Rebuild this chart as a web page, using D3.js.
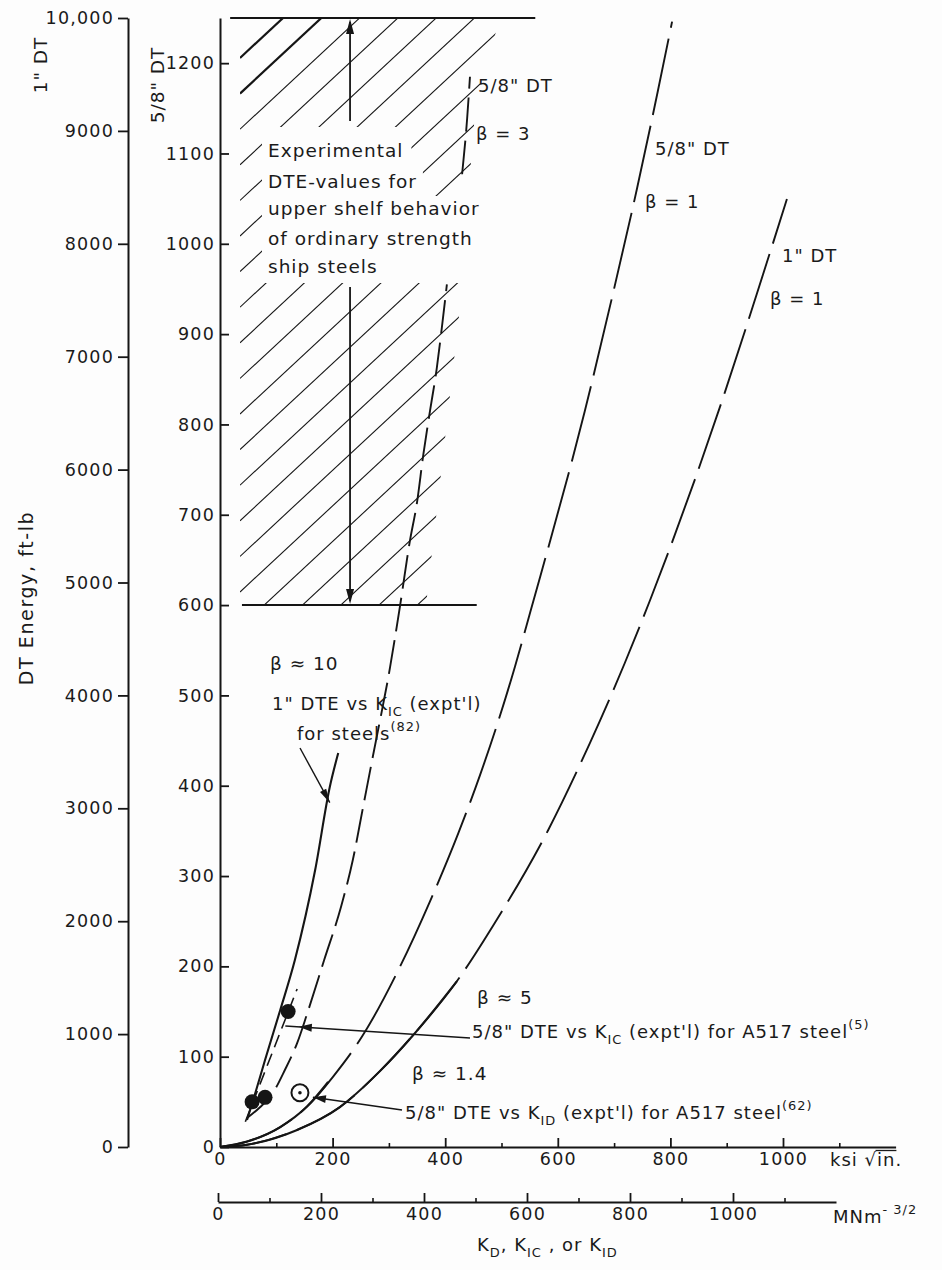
<!DOCTYPE html>
<html><head><meta charset="utf-8">
<script src="https://cdn.jsdelivr.net/npm/d3@7/dist/d3.min.js"></script>
<style>
html,body{margin:0;padding:0;background:#fdfdfd;}
svg{display:block;}
text{font-family:"DejaVu Sans",sans-serif;fill:#1a1a1a;}
</style></head><body>
<svg id="chart" width="942" height="1270"></svg>
<script>
// ---------------- DATA ----------------
const ksiTicks = [0, 200, 400, 600, 800, 1000];
const ksiMinor = [100, 300, 500, 700, 900, 1100];
const mnTicks = [0, 200, 400, 600, 800, 1000];
const mnMinor = [100, 300, 500, 700, 900, 1100];
const dt1Ticks = [0, 1000, 2000, 3000, 4000, 5000, 6000, 7000, 8000, 9000, 10000];
const dt58Ticks = [0, 100, 200, 300, 400, 500, 600, 700, 800, 900, 1000, 1100, 1200];

// 5/8" DT, beta = 1 (dashed), energy in 5/8" DT ft-lb
const b1s_K = [0, 48, 107, 155, 201, 252, 320, 373, 423, 462, 524, 551, 648, 698, 741, 778, 803];
const b1s_E = [0, 6, 22, 45, 78, 122, 200, 272, 347, 412, 532, 592, 815, 945, 1062, 1170, 1246];
// 1" DT, beta = 1 (dashed), energy in 1" DT ft-lb
const b1l_K = [0, 48, 137, 213, 284, 343, 421, 485, 583, 657, 719, 764, 897, 954, 1007];
const b1l_E = [0, 20, 151, 354, 672, 990, 1470, 1960, 2808, 3578, 4287, 4845, 6688, 7564, 8397];
// 5/8" DT, beta = 3 (dashed), null = break behind the text block
const b3_K = [48, 71, 94, 115, 137, 155, 185, 215, 236, 254, 272, 302, 320, 337, 350, 361, 373, 385, 394, 403, 416, 430, 439, 444];
const b3_E = [32, 44, 60, 85, 115, 148, 207, 266, 318, 376, 434, 531, 600, 670, 714, 766, 815, 862, 907, 955, null, 1077, 1139, 1185];
// beta ~ 10 : 1" DTE vs KIC (expt'l) for steels, 1" DT ft-lb (solid)
const b10_K = [48, 59, 80, 107, 133, 169, 195, 210];
const b10_E = [239, 416, 771, 1213, 1656, 2453, 3189, 3490];
// beta ~ 5 (solid, 5/8" DT ft-lb)
const b5_K = [0, 48, 107, 155, 192];
const b5_E = [0, 6, 22, 45, 72];
// beta ~ 1.4 (solid, 1" DT ft-lb)
const b14_K = [0, 48, 137, 213, 284, 343, 421];
const b14_E = [0, 20, 151, 354, 672, 990, 1470];
// A517 steel, 5/8" DTE vs KIC (expt'l), filled points
const a517ic_K = [57, 80, 121];
const a517ic_E = [50, 55, 150];
// dashed line through A517 KIC points
const a517fit_K = [45, 137];
const a517fit_E = [28, 175];
// A517 steel, 5/8" DTE vs KID (expt'l), open point
const a517id_K = [142];
const a517id_E = [60];
// Experimental upper-shelf band (5/8" DT ft-lb)
const shelfLow = 600, shelfHigh = 1250;

// ---------------- SETUP ----------------
const W = 942, H = 1270;
const BG = "#fdfdfd";
const svg = d3.select("#chart");
svg.append("rect").attr("width", W).attr("height", H).attr("fill", BG);

const x = d3.scaleLinear().domain([0, 1200]).range([220, 895.6]);
const xMN = d3.scaleLinear().domain([0, 1200]).range([218, 836]);
const y58 = d3.scaleLinear().domain([0, 1250]).range([1147, 18]);
const y1 = d3.scaleLinear().domain([0, 10000]).range([1147, 18]);

const INK = "#151515";

// ---------------- HATCHED BAND ----------------
const hatchTop = y58(shelfHigh), hatchBot = y58(shelfLow);
const clip = svg.append("defs").append("clipPath").attr("id", "hclip");
clip.append("polygon").attr("points", [
  [240, hatchTop], [500, hatchTop], [476, 100], [468, 200], [462, 290], [426, hatchBot], [240, hatchBot]
].map(p => p.join(",")).join(" "));
const hatch = svg.append("g").attr("clip-path", "url(#hclip)");
const hSlope = 0.93, hStep = 35.6;
for (let n = 0; n <= 20; n++) {
  const yL = 58 + hStep * n;
  hatch.append("line")
    .attr("x1", 240).attr("y1", yL)
    .attr("x2", 600).attr("y2", yL - hSlope * 360)
    .attr("stroke", INK).attr("stroke-width", n < 2 ? 2.2 : 1.1);
}
const maskG = svg.append("g");

// band edges
svg.append("line").attr("x1", x(18)).attr("x2", x(560)).attr("y1", hatchTop).attr("y2", hatchTop)
  .attr("stroke", INK).attr("stroke-width", 2);
svg.append("line").attr("x1", x(39)).attr("x2", x(456)).attr("y1", hatchBot).attr("y2", hatchBot)
  .attr("stroke", INK).attr("stroke-width", 2);

function arrowHead(g, tx, ty, fx, fy, len, hw) {
  const dx = tx - fx, dy = ty - fy, L = Math.hypot(dx, dy);
  const ux = dx / L, uy = dy / L;
  const bx = tx - ux * len, by = ty - uy * len;
  g.append("polygon").attr("points",
    [[tx, ty], [bx - uy * hw, by + ux * hw], [bx + uy * hw, by - ux * hw]].map(p => p.join(",")).join(" "))
    .attr("fill", INK);
}
// band arrows
const ax = x(231);
svg.append("line").attr("x1", ax).attr("x2", ax).attr("y1", 121).attr("y2", hatchTop + 4).attr("stroke", INK).attr("stroke-width", 1.8);
arrowHead(svg, ax, hatchTop + 1, ax, 121, 15, 4);
svg.append("line").attr("x1", ax).attr("x2", ax).attr("y1", 287).attr("y2", hatchBot - 4).attr("stroke", INK).attr("stroke-width", 1.8);
arrowHead(svg, ax, hatchBot - 1, ax, 287, 15, 4);

// ---------------- CURVES ----------------
function series(K, E) { return K.map((k, i) => ({ k: k, e: E[i] })); }
const line58 = d3.line().defined(d => d.e != null).x(d => x(d.k)).y(d => y58(d.e)).curve(d3.curveMonotoneX);
const line1 = d3.line().defined(d => d.e != null).x(d => x(d.k)).y(d => y1(d.e)).curve(d3.curveMonotoneX);

function draw(path, dash, w) {
  svg.append("path").attr("d", path).attr("fill", "none").attr("stroke", INK)
    .attr("stroke-width", w).attr("stroke-dasharray", dash).attr("stroke-linecap", "butt");
}
draw(line58(series(b1s_K, b1s_E)), "78,11", 1.9);
draw(line1(series(b1l_K, b1l_E)), "68,11", 1.9);
draw(line58(series(b3_K, b3_E)), "34,9", 1.9);
draw(line1(series(b10_K, b10_E)), null, 2.1);
draw(line58(series(b5_K, b5_E)), null, 2.1);
draw(line1(series(b14_K, b14_E)), null, 2.1);
draw(line58(series(a517fit_K, a517fit_E)), "13,7", 1.6);

// points
svg.append("g").selectAll("circle").data(series(a517ic_K, a517ic_E)).join("circle")
  .attr("cx", d => x(d.k)).attr("cy", d => y58(d.e)).attr("r", 7.5).attr("fill", INK);
const idG = svg.append("g").selectAll("g").data(series(a517id_K, a517id_E)).join("g");
idG.append("circle").attr("cx", d => x(d.k)).attr("cy", d => y58(d.e)).attr("r", 8.5)
  .attr("fill", "none").attr("stroke", INK).attr("stroke-width", 2);
idG.append("circle").attr("cx", d => x(d.k)).attr("cy", d => y58(d.e)).attr("r", 1.8).attr("fill", INK);

// ---------------- AXES ----------------
function styleAxis(g, fs) {
  g.attr("font-family", "DejaVu Sans").attr("font-size", fs);
  g.selectAll("text").attr("fill", "#1a1a1a").style("letter-spacing", "1.2px");
  g.selectAll("path.domain").attr("stroke", INK).attr("stroke-width", 2);
  g.selectAll(".tick line").attr("stroke", INK).attr("stroke-width", 1.8);
}
const plain = d => String(d);
const g1 = svg.append("g").attr("transform", "translate(128,0)")
  .call(d3.axisLeft(y1).tickValues(dt1Ticks).tickSizeInner(10).tickSizeOuter(0).tickPadding(4)
    .tickFormat(d => d === 10000 ? "10,000" : String(d)));
styleAxis(g1, 17.5);

const g58 = svg.append("g").attr("transform", "translate(220,0)")
  .call(d3.axisLeft(y58).tickValues(dt58Ticks).tickSizeInner(-9).tickSizeOuter(0).tickPadding(5).tickFormat(plain));
styleAxis(g58, 17.5);

const gx = svg.append("g").attr("transform", "translate(0,1147)")
  .call(d3.axisBottom(x).tickValues(ksiTicks).tickSizeInner(-9).tickSizeOuter(0).tickPadding(6).tickFormat(plain));
styleAxis(gx, 17.5);
const gxm = svg.append("g").attr("transform", "translate(0,1147)")
  .call(d3.axisBottom(x).tickValues(ksiMinor).tickSizeInner(-4).tickSizeOuter(0).tickFormat(""));
gxm.select("path.domain").remove();
gxm.selectAll(".tick line").attr("stroke", INK).attr("stroke-width", 1.6);

const gm = svg.append("g").attr("transform", "translate(0,1202)")
  .call(d3.axisBottom(xMN).tickValues(mnTicks).tickSizeInner(-9).tickSizeOuter(0).tickPadding(6).tickFormat(plain));
styleAxis(gm, 17.5);
const gmm = svg.append("g").attr("transform", "translate(0,1202)")
  .call(d3.axisBottom(xMN).tickValues(mnMinor).tickSizeInner(-4).tickSizeOuter(0).tickFormat(""));
gmm.select("path.domain").remove();
gmm.selectAll(".tick line").attr("stroke", INK).attr("stroke-width", 1.6);

// ---------------- TEXT ----------------
function label(xp, yp, parts, fs, extra) {
  const t = svg.append("text").attr("x", xp).attr("y", yp).attr("font-size", fs || 18)
    .style("letter-spacing", "1px");
  if (extra) extra(t);
  let shift = 0;
  parts.forEach(p => {
    const pt = typeof p === "string" ? { t: p } : p;
    const target = pt.sub ? 6 : pt.sup ? -9 : 0;
    t.append("tspan").attr("dy", target - shift).attr("font-size", pt.sub || pt.sup ? (fs || 18) * 0.72 : null)
      .text(pt.t);
    shift = target;
  });
  return t;
}
// band text + blank zone behind it
const bandLines = [["Experimental", 157], ["DTE-values for", 188], ["upper shelf behavior", 215],
                   ["of ordinary strength", 245], ["ship steels", 273]];
const bandBoxes = bandLines.map(([s, yy]) => label(268, yy, [s], 18.5).node().getBBox());
maskG.append("rect").attr("x", 262).attr("y", 127)
  .attr("width", bandBoxes[0].x + bandBoxes[0].width + 8 - 262).attr("height", 40).attr("fill", BG);
maskG.append("rect").attr("x", 262).attr("y", 166)
  .attr("width", bandBoxes[1].x + bandBoxes[1].width + 6 - 262).attr("height", 32).attr("fill", BG);
maskG.append("rect").attr("x", 262).attr("y", 196).attr("width", 240).attr("height", 87).attr("fill", BG);

label(478, 92, ["5/8\" DT"], 18);
label(476, 140, ["β = 3"], 18);
label(655, 155, ["5/8\" DT"], 18);
label(645, 208, ["β = 1"], 18);
label(782, 262, ["1\" DT"], 18);
label(770, 305, ["β = 1"], 18);
label(270, 670, ["β ≈ 10"], 18.5);
label(272, 710, ["1\" DTE vs K", { t: "IC", sub: true }, " (expt'l)"], 18);
label(297, 740, ["for steels", { t: "(82)", sup: true }], 18);
label(477, 1004, ["β ≈ 5"], 18.5);
label(472, 1038, ["5/8\" DTE vs K", { t: "IC", sub: true }, " (expt'l) for A517 steel", { t: "(5)", sup: true }], 18);
label(412, 1080, ["β ≈ 1.4"], 18.5);
label(405, 1119, ["5/8\" DTE vs K", { t: "ID", sub: true }, " (expt'l) for A517 steel", { t: "(62)", sup: true }], 18);

// annotation arrows
svg.append("line").attr("x1", 300).attr("y1", 748).attr("x2", x(195)).attr("y2", y1(3050)).attr("stroke", INK).attr("stroke-width", 1.4);
arrowHead(svg, x(195), y1(3050), 300, 748, 14, 3.5);
svg.append("line").attr("x1", 470).attr("y1", 1038).attr("x2", x(116)).attr("y2", y58(134)).attr("stroke", INK).attr("stroke-width", 1.6);
arrowHead(svg, x(140), y58(133), 470, 1038, 13, 4);
svg.append("line").attr("x1", 402).attr("y1", 1110).attr("x2", x(165)).attr("y2", y58(55)).attr("stroke", INK).attr("stroke-width", 1.6);
arrowHead(svg, x(165), y58(55), 402, 1110, 13, 4);

// axis titles
label(0, 0, ["DT Energy,  ft-lb"], 19, t => t.attr("transform", "translate(33,598) rotate(-90)").attr("text-anchor", "middle").style("letter-spacing", "1.6px"));
label(0, 0, ["1\" DT"], 18.5, t => t.attr("transform", "translate(47,65) rotate(-90)").attr("text-anchor", "middle"));
label(0, 0, ["5/8\" DT"], 18.5, t => t.attr("transform", "translate(164,85) rotate(-90)").attr("text-anchor", "middle"));

const ksiLab = svg.append("text").attr("x", 830).attr("y", 1166).attr("font-size", 18)
  .style("letter-spacing", "1px").text("ksi √in.");
const kn = ksiLab.node();
const rEnd = kn.getEndPositionOfChar(4), nEnd = kn.getEndPositionOfChar(6);
svg.append("line").attr("x1", rEnd.x - 1.5).attr("x2", nEnd.x + 1).attr("y1", 1166 - 15.5).attr("y2", 1166 - 15.5)
  .attr("stroke", "#1a1a1a").attr("stroke-width", 1.3);
label(833, 1223, ["MNm", { t: "- 3/2", sup: true }], 18);
label(477, 1251, ["K", { t: "D", sub: true }, ", K", { t: "IC", sub: true }, " , or K", { t: "ID", sub: true }], 18);
</script>
</body></html>
